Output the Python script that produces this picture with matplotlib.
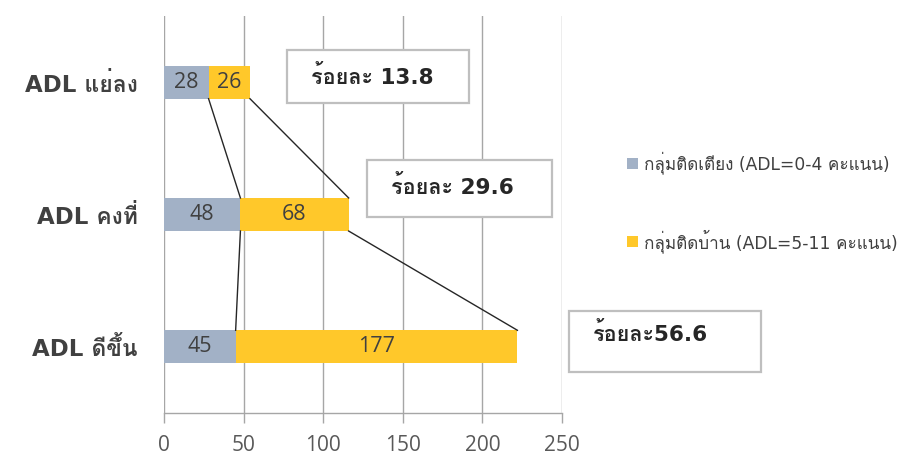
import matplotlib
matplotlib.use("Agg")
import matplotlib.pyplot as plt
import numpy as np
from matplotlib import font_manager as fm
from matplotlib.patches import Rectangle

# ---- data ----
categories = ['ADL แย่ลง', 'ADL คงที่', 'ADL ดีขึ้น']
bedridden = [28, 48, 45]      # กลุ่มติดเตียง
homebound = [26, 68, 177]     # กลุ่มติดบ้าน
series_names = ['กลุ่มติดเตียง (ADL=0-4 คะแนน)', 'กลุ่มติดบ้าน (ADL=5-11 คะแนน)']
percent_labels = ['ร้อยละ 13.8', 'ร้อยละ 29.6', 'ร้อยละ56.6']
xticks = [0, 50, 100, 150, 200, 250]

# ---- fonts ----
names = {f.name for f in fm.fontManager.ttflist}
thai = next((n for n in ['Loma', 'IBM Plex Sans Thai Looped', 'Sarabun',
                         'Noto Sans Thai Looped', 'Noto Sans Thai'] if n in names), 'DejaVu Sans')
LAT = ['DejaVu Sans', thai]
NUM = ['Open Sans', 'DejaVu Sans']

grey = '#A2B1C6'
yellow = '#FFC82A'

W, H = 900, 461
fig = plt.figure(figsize=(W / 100, H / 100), dpi=100)
ax = fig.add_axes([164 / W, 1 - 413 / H, (562 - 164) / W, (413 - 16) / H])

y = np.arange(len(categories))
h = 0.25
b1 = ax.barh(y, bedridden, height=h, color=grey, zorder=2, label=series_names[0])
b2 = ax.barh(y, homebound, left=bedridden, height=h, color=yellow, zorder=2, label=series_names[1])

for rects, vals in ((b1, bedridden), (b2, homebound)):
    for r, v in zip(rects, vals):
        ax.text(r.get_x() + r.get_width() / 2, r.get_y() + r.get_height() / 2, str(v),
                ha='center', va='center', fontsize=15.5, family=NUM, color='#404040', zorder=4)

# series lines
cum1 = np.array(bedridden)
cum2 = cum1 + np.array(homebound)
for cum in (cum1, cum2):
    for i in range(len(categories) - 1):
        ax.plot([cum[i], cum[i + 1]], [y[i] + h / 2, y[i + 1] - h / 2],
                color='#262626', lw=1.0, zorder=3)

ax.set_xlim(0, 250)
ax.set_ylim(2.5, -0.5)
ax.set_xticks(xticks)
ax.set_yticks(y)
ax.set_yticklabels(categories, family=LAT, fontsize=16.5, fontweight='bold', color='#404040')
ax.set_xticklabels([str(t) for t in xticks], family=NUM, fontsize=15, color='#595959')
ax.tick_params(axis='y', length=0, pad=19)
ax.tick_params(axis='x', length=7, width=1, color='#A6A6A6', pad=9)
ax.grid(axis='x', color='#A6A6A6', lw=1, zorder=0)
ax.set_axisbelow(True)
for s in ('top', 'right', 'left'):
    ax.spines[s].set_visible(False)
ax.spines['bottom'].set_color('#A6A6A6')
ax.spines['bottom'].set_linewidth(1)

# legend
leg = fig.legend(handles=[b1, b2], loc='center left', bbox_to_anchor=(612 / W, 1 - 202 / H),
                 frameon=False, handlelength=0.6, handleheight=0.6, handletextpad=0.35,
                 labelspacing=3.2, prop={'family': LAT, 'size': 12.3})
for t in leg.get_texts():
    t.set_color('#404040')

# percentage boxes (pixel layout)
boxes = [((287, 50, 469, 103), (372, 77)),
         ((367, 160, 552, 217), (452, 187)),
         ((569, 311, 761, 372), (650, 333))]
for lab, ((x0, y0, x1, y1), (tx, ty)) in zip(percent_labels, boxes):
    fig.add_artist(Rectangle((x0 / W, 1 - y1 / H), (x1 - x0) / W, (y1 - y0) / H,
                             transform=fig.transFigure, facecolor='white',
                             edgecolor='#BFBFBF', lw=1.6, zorder=5))
    fig.text(tx / W, 1 - ty / H, lab, ha='center', va='center', fontsize=15.5,
             fontweight='bold', family=LAT, color='#262626', zorder=6)

fig.savefig('out.png', dpi=100)
